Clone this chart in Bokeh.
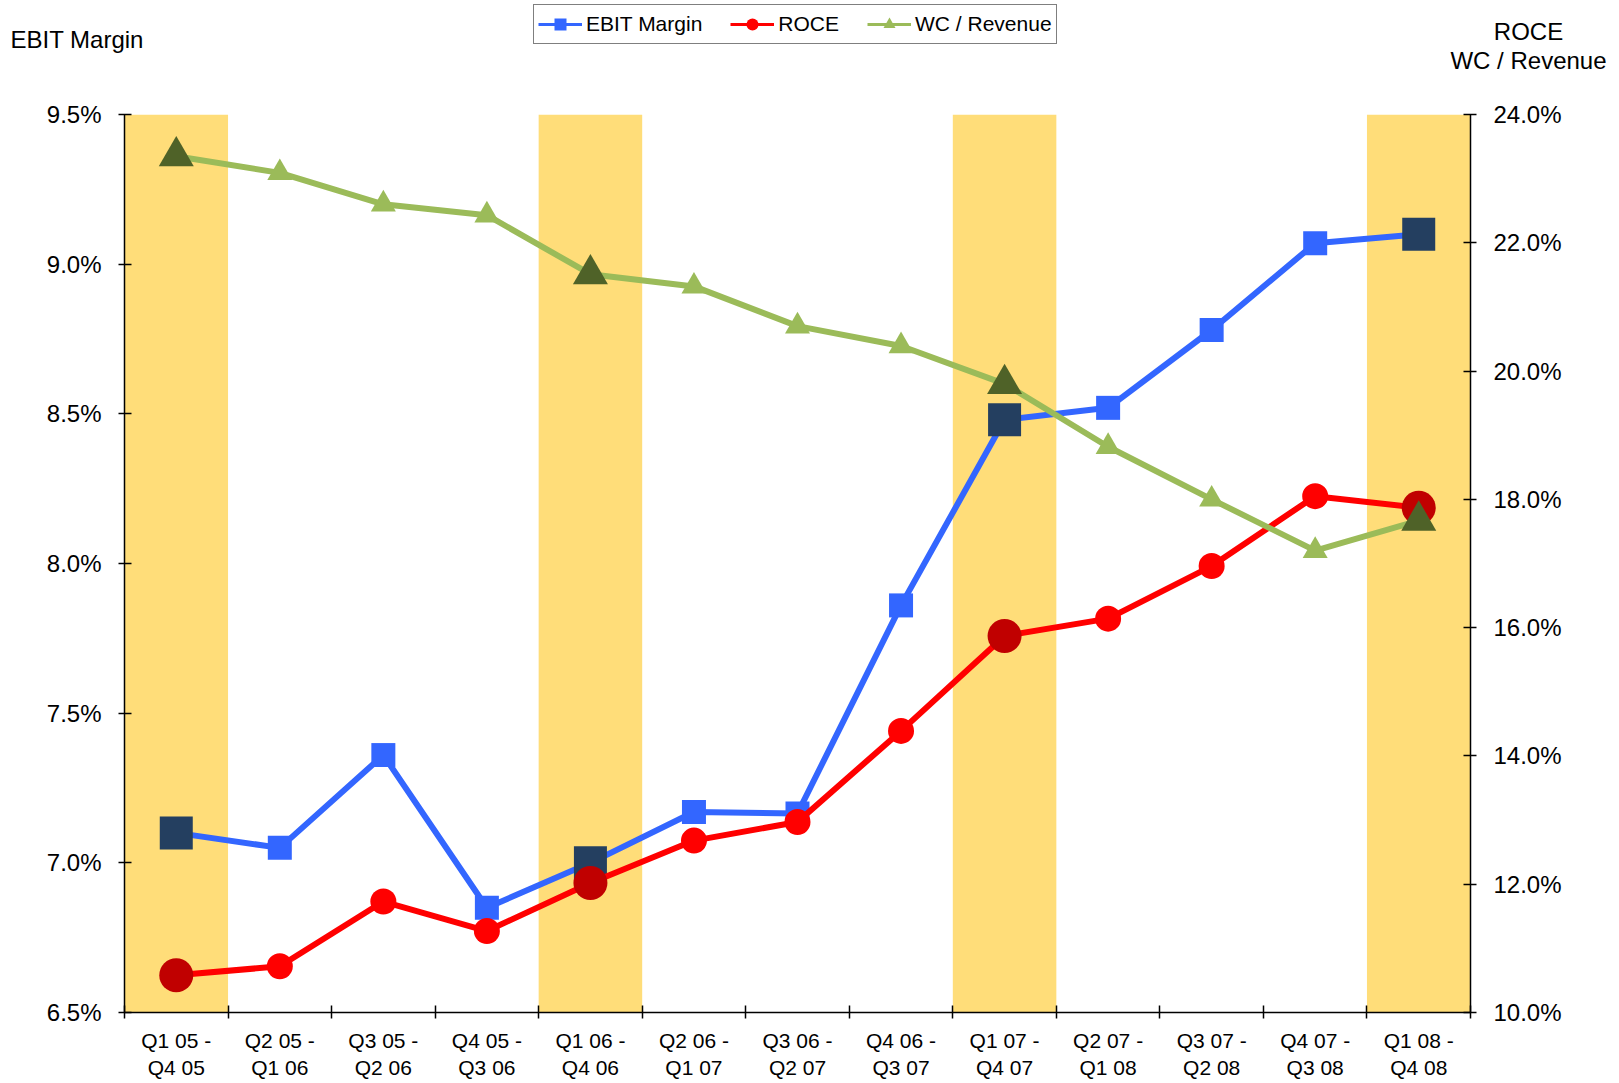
from bokeh.plotting import figure
from bokeh.layouts import column
from bokeh.models import (Range1d, LinearAxis, FixedTicker, PrintfTickFormatter,
                          Legend, LegendItem, Label)
from bokeh.embed import file_html
from bokeh.resources import INLINE

# ---------------- data ----------------
categories = ["Q1 05 -\nQ4 05", "Q2 05 -\nQ1 06", "Q3 05 -\nQ2 06", "Q4 05 -\nQ3 06",
              "Q1 06 -\nQ4 06", "Q2 06 -\nQ1 07", "Q3 06 -\nQ2 07", "Q4 06 -\nQ3 07",
              "Q1 07 -\nQ4 07", "Q2 07 -\nQ1 08", "Q3 07 -\nQ2 08", "Q4 07 -\nQ3 08",
              "Q1 08 -\nQ4 08"]
ebit_margin = [7.10, 7.05, 7.36, 6.85, 7.00, 7.17, 7.165, 7.86, 8.48, 8.52, 8.78, 9.07, 9.10]
roce = [10.58, 10.72, 11.73, 11.27, 12.02, 12.68, 12.97, 14.39, 15.87, 16.14, 16.96, 18.05, 17.87]
wc_revenue = [23.35, 23.09, 22.60, 22.43, 21.51, 21.32, 20.70, 20.39, 19.80, 18.82, 18.00, 17.20, 17.67]
highlighted = [0, 4, 8, 12]
left_ticks = [6.5, 7.0, 7.5, 8.0, 8.5, 9.0, 9.5]
right_ticks = [10, 12, 14, 16, 18, 20, 22, 24]
series_names = ["EBIT Margin", "ROCE", "WC / Revenue"]
left_title = "EBIT Margin"
right_title = ["ROCE", "WC / Revenue"]

# ---------------- style ----------------
FONT = "Liberation Sans"
YELLOW = "#FFDD79"
BLUE = "#3366FF"
NAVY = "#243F60"
RED = "#FF0000"
DARKRED = "#C00000"
GREEN = "#9BBB59"
OLIVE = "#4F6228"

W = 1619
HT = 100            # header (titles + legend) height
H2 = 983            # main chart height
ML, MR, MT, MB = 124, 149, 14, 71

n = len(categories)
xs = list(range(n))

# ================= header: axis titles and legend =================
hdr = figure(width=W, height=HT, x_range=Range1d(0, W), y_range=Range1d(HT, 0),
             x_axis_type=None, y_axis_type=None, output_backend="svg",
             toolbar_location=None, min_border=0)
hdr.frame_align = False
hdr.grid.visible = False
hdr.outline_line_color = None
hdr.background_fill_color = "white"
hdr.border_fill_color = "white"

specs = [(BLUE, "square"), (RED, "circle"), (GREEN, "triangle")]
items = []
for name, (col, mk) in zip(series_names, specs):
    # legend-only renderers, kept outside the visible header range
    l = hdr.line(x=[-50, -40], y=[-50, -50], line_color=col, line_width=3)
    s = hdr.scatter(x=[-50], y=[-50], marker=mk, size=12, fill_color=col, line_color=None)
    items.append(LegendItem(label=name, renderers=[l, s]))

legend = Legend(items=items, orientation="horizontal", location=(533, HT - 44),
                glyph_width=44, glyph_height=30, label_standoff=4, spacing=28,
                padding=4, margin=0,
                label_text_font=FONT, label_text_font_size="21px",
                label_text_color="black",
                border_line_color="black", border_line_width=1.5,
                background_fill_color="white", background_fill_alpha=1.0)
hdr.add_layout(legend)

hdr.add_layout(Label(x=10, y=39, text=left_title, text_font=FONT, text_font_size="24px",
                     text_color="black", text_align="left", text_baseline="middle"))
for t, yy in zip(right_title, (31, 60)):
    hdr.add_layout(Label(x=1528, y=yy, text=t, text_font=FONT, text_font_size="24px",
                         text_color="black", text_align="center", text_baseline="middle"))

# ================= main chart =================
p = figure(width=W, height=H2, x_range=Range1d(-0.5, n - 0.5),
           y_range=Range1d(left_ticks[0], left_ticks[-1]),
           output_backend="svg", toolbar_location=None,
           min_border_left=ML, min_border_right=MR,
           min_border_top=MT, min_border_bottom=MB)
p.frame_align = False
p.grid.visible = False
p.outline_line_color = None
p.background_fill_color = "white"
p.border_fill_color = "white"

p.extra_y_ranges = {"right": Range1d(right_ticks[0], right_ticks[-1])}

# x axis: boundary ticks (minor) and centred labels (major, no tick marks)
xa = p.xaxis[0]
xa.ticker = FixedTicker(ticks=xs, minor_ticks=[i - 0.5 for i in range(n + 1)])
xa.major_label_overrides = {i: c for i, c in enumerate(categories)}
xa.major_tick_in = 0
xa.major_tick_out = 0
xa.minor_tick_in = 7
xa.minor_tick_out = 6
xa.minor_tick_line_color = "black"
xa.minor_tick_line_width = 1.5
xa.axis_line_color = "black"
xa.axis_line_width = 1.5
xa.major_label_text_font = FONT
xa.major_label_text_font_size = "21px"
xa.major_label_text_color = "black"
xa.major_label_standoff = 10

ya = p.yaxis[0]
ya.ticker = FixedTicker(ticks=left_ticks)
ya.formatter = PrintfTickFormatter(format="%.1f%%")

ra = LinearAxis(y_range_name="right", ticker=FixedTicker(ticks=right_ticks),
                formatter=PrintfTickFormatter(format="%.1f%%"))
p.add_layout(ra, "right")

for ax in (ya, ra):
    ax.major_tick_in = 7
    ax.major_tick_out = 6
    ax.minor_tick_in = 0
    ax.minor_tick_out = 0
    ax.major_tick_line_color = "black"
    ax.major_tick_line_width = 1.5
    ax.axis_line_color = "black"
    ax.axis_line_width = 1.5
    ax.major_label_text_font = FONT
    ax.major_label_text_font_size = "24px"
    ax.major_label_text_color = "black"
    ax.major_label_standoff = 17

# highlighted periods
p.vbar(x=[xs[i] for i in highlighted], width=1.0,
       bottom=left_ticks[0], top=left_ticks[-1],
       fill_color=YELLOW, line_color=None)

def series(vals, color, dark, marker, size, big, rng):
    kw = {} if rng is None else {"y_range_name": rng}
    p.line(xs, vals, line_color=color, line_width=6, **kw)
    p.scatter(xs, vals, marker=marker, size=size, fill_color=color,
              line_color=None, **kw)
    p.scatter([xs[i] for i in highlighted], [vals[i] for i in highlighted],
              marker=marker, size=big, fill_color=dark, line_color=None, **kw)

series(ebit_margin, BLUE, NAVY, "square", 24, 33, None)
series(roce, RED, DARKRED, "circle", 26, 34, "right")
series(wc_revenue, GREEN, OLIVE, "triangle", 25, 35, "right")

layout = column(hdr, p, spacing=0)
open("out.html", "w").write(file_html(layout, INLINE))
